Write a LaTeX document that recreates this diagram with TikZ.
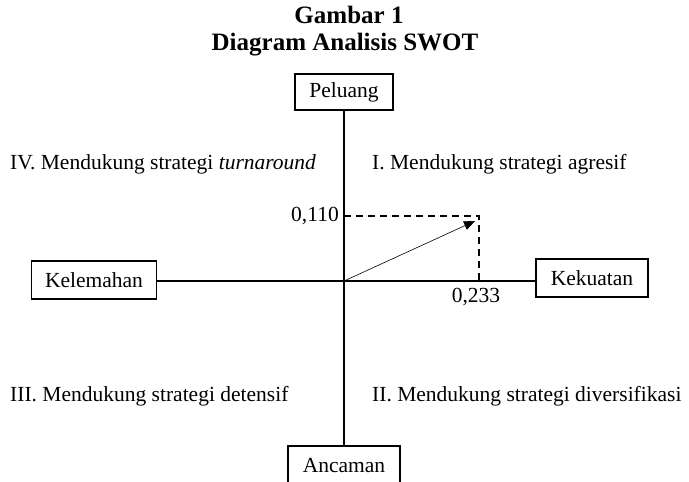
\documentclass[tikz,border=0pt]{standalone}
\usepackage{fontspec}
\setmainfont{Liberation Serif}
\usetikzlibrary{arrows.meta}
\begin{document}
\begin{tikzpicture}[x=1pt,y=-1pt,
  lbl/.style={draw,line width=1.2pt,inner sep=0pt,font=\fontsize{21.5}{24}\selectfont},
  axis/.style={line width=1.6pt},
  txt/.style={font=\fontsize{21.5}{24}\selectfont,inner sep=0pt},
  guide/.style={line width=1.2pt,dash pattern=on 7pt off 5pt}]
\useasboundingbox (0,0) rectangle (689,482);
\node[font=\bfseries\fontsize{25}{27}\selectfont,inner sep=0pt] (t1) at (349,15) {Gambar 1};
\node[font=\bfseries\fontsize{25}{27}\selectfont,inner sep=0pt] (t2) at (345,45) {Diagram Analisis SWOT};
\node[lbl,minimum width=98pt,minimum height=36pt] (P) at (344,92) {Peluang};
\node[lbl,minimum width=112pt,minimum height=40pt] (A) at (344,466) {Ancaman};
\node[lbl,minimum width=125pt,minimum height=38pt] (W) at (94,280) {Kelemahan};
\node[lbl,minimum width=112pt,minimum height=38pt] (S) at (592,278) {Kekuatan};
\coordinate (O) at (344,281);
\coordinate (pt) at (479,216);
\coordinate (py) at (344,216);
\coordinate (px) at (479,281);
\draw[axis] (P.south) -- (A.north);
\draw[axis] (O -| W.east) -- (O) -- (O -| S.west);
\draw[guide] (py) -- (pt) -- (px);
\draw[line width=0.6pt,-{Triangle[length=11pt,width=9pt]}] (O) -- (475,221);
\node[txt,anchor=east] (y) at (339,216) {0,110};
\node[txt] (x) at (476,297) {0,233};
\node[txt,anchor=west] (q4) at (10,164) {IV. Mendukung strategi \textit{turnaround}};
\node[txt,anchor=west] (q1) at (372,164) {I. Mendukung strategi agresif};
\node[txt,anchor=west] (q3) at (10,396) {III. Mendukung strategi detensif};
\node[txt,anchor=west] (q2) at (372,396) {II. Mendukung strategi diversifikasi};
\end{tikzpicture}
\end{document}
